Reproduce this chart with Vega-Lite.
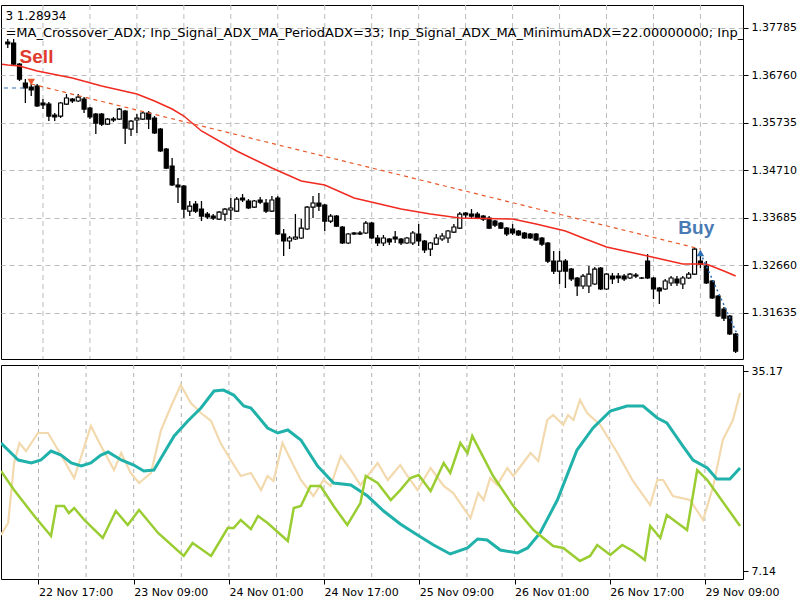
{
  "$schema": "https://vega.github.io/schema/vega-lite/v6.json",
  "padding": {"left": 0, "top": 4, "right": 0, "bottom": 0},
  "background": "#ffffff",
  "spacing": 4,
  "config": {
    "view": {"stroke": "#000000", "strokeWidth": 1},
    "axis": {"labelFont": "DejaVu Sans", "labelFontSize": 11, "labelColor": "#000000", "tickColor": "#000000", "domain": false}
  },
  "datasets": {
    "grid": [{"i":16},{"i":24},{"i":32},{"i":40},{"i":48},{"i":56},{"i":64},{"i":72},{"i":80},{"i":88},{"i":96},{"i":104},{"i":112},{"i":120},{"i":128}],
    "candles": [
      {"i":10,"o":1.37472,"h":1.37537,"l":1.37343,"c":1.37429},
      {"i":11,"o":1.37451,"h":1.37537,"l":1.36976,"c":1.36997},
      {"i":12,"o":1.36997,"h":1.37019,"l":1.36631,"c":1.36673},
      {"i":13,"o":1.36588,"h":1.36673,"l":1.36156,"c":1.36480},
      {"i":14,"o":1.36502,"h":1.36566,"l":1.36307,"c":1.36437},
      {"i":15,"o":1.36523,"h":1.36566,"l":1.36070,"c":1.36091},
      {"i":16,"o":1.36156,"h":1.36242,"l":1.36026,"c":1.36113},
      {"i":17,"o":1.36134,"h":1.36177,"l":1.35767,"c":1.35875},
      {"i":18,"o":1.35897,"h":1.35940,"l":1.35767,"c":1.35854},
      {"i":19,"o":1.35875,"h":1.36177,"l":1.35832,"c":1.36156},
      {"i":20,"o":1.36134,"h":1.36350,"l":1.36113,"c":1.36264},
      {"i":21,"o":1.36242,"h":1.36264,"l":1.36156,"c":1.36199},
      {"i":22,"o":1.36199,"h":1.36350,"l":1.36177,"c":1.36285},
      {"i":23,"o":1.36242,"h":1.36285,"l":1.35940,"c":1.36026},
      {"i":24,"o":1.36048,"h":1.36070,"l":1.35810,"c":1.35854},
      {"i":25,"o":1.35918,"h":1.35940,"l":1.35487,"c":1.35724},
      {"i":26,"o":1.35918,"h":1.35940,"l":1.35659,"c":1.35702},
      {"i":27,"o":1.35702,"h":1.35832,"l":1.35681,"c":1.35810},
      {"i":28,"o":1.35810,"h":1.35854,"l":1.35745,"c":1.35789},
      {"i":29,"o":1.35810,"h":1.36048,"l":1.35789,"c":1.36026},
      {"i":30,"o":1.35983,"h":1.36005,"l":1.35271,"c":1.35616},
      {"i":31,"o":1.35594,"h":1.35789,"l":1.35444,"c":1.35767},
      {"i":32,"o":1.35789,"h":1.35918,"l":1.35509,"c":1.35832},
      {"i":33,"o":1.35810,"h":1.35983,"l":1.35789,"c":1.35940},
      {"i":34,"o":1.35940,"h":1.35983,"l":1.35594,"c":1.35810},
      {"i":35,"o":1.35832,"h":1.35875,"l":1.35487,"c":1.35509},
      {"i":36,"o":1.35594,"h":1.35616,"l":1.35098,"c":1.35120},
      {"i":37,"o":1.35163,"h":1.35185,"l":1.34731,"c":1.34753},
      {"i":38,"o":1.34796,"h":1.34969,"l":1.34365,"c":1.34387},
      {"i":39,"o":1.34387,"h":1.34537,"l":1.33998,"c":1.34344},
      {"i":40,"o":1.34365,"h":1.34387,"l":1.33674,"c":1.33868},
      {"i":41,"o":1.33825,"h":1.34041,"l":1.33717,"c":1.33933},
      {"i":42,"o":1.33976,"h":1.34041,"l":1.33782,"c":1.33825},
      {"i":43,"o":1.33868,"h":1.34041,"l":1.33609,"c":1.33717},
      {"i":44,"o":1.33760,"h":1.33803,"l":1.33652,"c":1.33696},
      {"i":45,"o":1.33717,"h":1.33760,"l":1.33630,"c":1.33674},
      {"i":46,"o":1.33652,"h":1.33825,"l":1.33630,"c":1.33803},
      {"i":47,"o":1.33760,"h":1.33890,"l":1.33609,"c":1.33868},
      {"i":48,"o":1.33847,"h":1.34106,"l":1.33630,"c":1.33890},
      {"i":49,"o":1.33825,"h":1.34128,"l":1.33803,"c":1.34084},
      {"i":50,"o":1.34106,"h":1.34192,"l":1.34019,"c":1.34063},
      {"i":51,"o":1.34041,"h":1.34084,"l":1.33868,"c":1.33890},
      {"i":52,"o":1.33911,"h":1.34063,"l":1.33890,"c":1.34041},
      {"i":53,"o":1.34063,"h":1.34128,"l":1.33976,"c":1.34019},
      {"i":54,"o":1.33998,"h":1.34084,"l":1.33782,"c":1.33825},
      {"i":55,"o":1.33825,"h":1.34149,"l":1.33803,"c":1.34063},
      {"i":56,"o":1.34106,"h":1.34149,"l":1.33308,"c":1.33329},
      {"i":57,"o":1.33329,"h":1.33437,"l":1.32854,"c":1.33178},
      {"i":58,"o":1.33178,"h":1.33286,"l":1.33005,"c":1.33243},
      {"i":59,"o":1.33221,"h":1.33760,"l":1.33200,"c":1.33264},
      {"i":60,"o":1.33243,"h":1.33652,"l":1.33221,"c":1.33458},
      {"i":61,"o":1.33437,"h":1.33933,"l":1.33415,"c":1.33911},
      {"i":62,"o":1.33911,"h":1.34149,"l":1.33674,"c":1.33998},
      {"i":63,"o":1.33998,"h":1.34214,"l":1.33825,"c":1.33933},
      {"i":64,"o":1.33955,"h":1.33976,"l":1.33394,"c":1.33609},
      {"i":65,"o":1.33609,"h":1.33760,"l":1.33566,"c":1.33717},
      {"i":66,"o":1.33717,"h":1.33739,"l":1.33480,"c":1.33501},
      {"i":67,"o":1.33480,"h":1.33501,"l":1.33113,"c":1.33135},
      {"i":68,"o":1.33135,"h":1.33351,"l":1.33113,"c":1.33329},
      {"i":69,"o":1.33329,"h":1.33372,"l":1.33308,"c":1.33351},
      {"i":70,"o":1.33351,"h":1.33394,"l":1.33308,"c":1.33329},
      {"i":71,"o":1.33351,"h":1.33609,"l":1.33329,"c":1.33566},
      {"i":72,"o":1.33566,"h":1.33587,"l":1.33221,"c":1.33243},
      {"i":73,"o":1.33243,"h":1.33308,"l":1.33070,"c":1.33135},
      {"i":74,"o":1.33135,"h":1.33308,"l":1.33070,"c":1.33243},
      {"i":75,"o":1.33221,"h":1.33243,"l":1.33092,"c":1.33157},
      {"i":76,"o":1.33264,"h":1.33394,"l":1.33135,"c":1.33221},
      {"i":77,"o":1.33221,"h":1.33243,"l":1.33092,"c":1.33135},
      {"i":78,"o":1.33135,"h":1.33264,"l":1.33113,"c":1.33243},
      {"i":79,"o":1.33135,"h":1.33394,"l":1.33092,"c":1.33351},
      {"i":80,"o":1.33329,"h":1.33544,"l":1.33070,"c":1.33178},
      {"i":81,"o":1.33178,"h":1.33200,"l":1.32919,"c":1.32984},
      {"i":82,"o":1.33005,"h":1.33156,"l":1.32854,"c":1.33135},
      {"i":83,"o":1.33113,"h":1.33329,"l":1.33092,"c":1.33243},
      {"i":84,"o":1.33221,"h":1.33351,"l":1.33178,"c":1.33286},
      {"i":85,"o":1.33243,"h":1.33415,"l":1.33135,"c":1.33394},
      {"i":86,"o":1.33372,"h":1.33544,"l":1.33351,"c":1.33480},
      {"i":87,"o":1.33458,"h":1.33803,"l":1.33437,"c":1.33760},
      {"i":88,"o":1.33782,"h":1.33803,"l":1.33674,"c":1.33739},
      {"i":89,"o":1.33760,"h":1.33868,"l":1.33674,"c":1.33717},
      {"i":90,"o":1.33760,"h":1.33803,"l":1.33652,"c":1.33674},
      {"i":91,"o":1.33717,"h":1.33739,"l":1.33609,"c":1.33652},
      {"i":92,"o":1.33674,"h":1.33717,"l":1.33437,"c":1.33458},
      {"i":93,"o":1.33609,"h":1.33630,"l":1.33480,"c":1.33523},
      {"i":94,"o":1.33566,"h":1.33587,"l":1.33437,"c":1.33458},
      {"i":95,"o":1.33458,"h":1.33480,"l":1.33286,"c":1.33329},
      {"i":96,"o":1.33437,"h":1.33544,"l":1.33308,"c":1.33351},
      {"i":97,"o":1.33394,"h":1.33415,"l":1.33286,"c":1.33308},
      {"i":98,"o":1.33351,"h":1.33372,"l":1.33221,"c":1.33243},
      {"i":99,"o":1.33329,"h":1.33351,"l":1.33221,"c":1.33243},
      {"i":100,"o":1.33329,"h":1.33351,"l":1.33178,"c":1.33200},
      {"i":101,"o":1.33243,"h":1.33264,"l":1.33070,"c":1.33113},
      {"i":102,"o":1.33135,"h":1.33156,"l":1.32703,"c":1.32746},
      {"i":103,"o":1.32746,"h":1.32962,"l":1.32465,"c":1.32530},
      {"i":104,"o":1.32530,"h":1.32962,"l":1.32250,"c":1.32746},
      {"i":105,"o":1.32746,"h":1.32789,"l":1.32164,"c":1.32530},
      {"i":106,"o":1.32573,"h":1.32595,"l":1.32315,"c":1.32358},
      {"i":107,"o":1.32380,"h":1.32401,"l":1.31991,"c":1.32207},
      {"i":108,"o":1.32207,"h":1.32465,"l":1.32142,"c":1.32422},
      {"i":109,"o":1.32207,"h":1.32638,"l":1.32056,"c":1.32465},
      {"i":110,"o":1.32250,"h":1.32617,"l":1.32229,"c":1.32573},
      {"i":111,"o":1.32595,"h":1.32617,"l":1.32121,"c":1.32142},
      {"i":112,"o":1.32142,"h":1.32487,"l":1.32121,"c":1.32465},
      {"i":113,"o":1.32422,"h":1.32487,"l":1.32250,"c":1.32358},
      {"i":114,"o":1.32422,"h":1.32487,"l":1.32272,"c":1.32380},
      {"i":115,"o":1.32422,"h":1.32465,"l":1.32315,"c":1.32358},
      {"i":116,"o":1.32380,"h":1.32487,"l":1.32358,"c":1.32465},
      {"i":117,"o":1.32444,"h":1.32487,"l":1.32380,"c":1.32422},
      {"i":118,"o":1.32380,"h":1.32401,"l":1.32358,"c":1.32378},
      {"i":119,"o":1.32746,"h":1.32897,"l":1.32358,"c":1.32380},
      {"i":120,"o":1.32380,"h":1.32401,"l":1.31926,"c":1.32142},
      {"i":121,"o":1.32164,"h":1.32185,"l":1.31818,"c":1.32099},
      {"i":122,"o":1.32142,"h":1.32358,"l":1.32121,"c":1.32315},
      {"i":123,"o":1.32272,"h":1.32422,"l":1.32207,"c":1.32380},
      {"i":124,"o":1.32358,"h":1.32422,"l":1.32207,"c":1.32272},
      {"i":125,"o":1.32250,"h":1.32422,"l":1.32142,"c":1.32380},
      {"i":126,"o":1.32380,"h":1.32509,"l":1.32358,"c":1.32465},
      {"i":127,"o":1.32465,"h":1.33027,"l":1.32444,"c":1.33005},
      {"i":128,"o":1.32746,"h":1.32962,"l":1.32595,"c":1.32681},
      {"i":129,"o":1.32638,"h":1.32746,"l":1.32250,"c":1.32272},
      {"i":130,"o":1.32315,"h":1.32337,"l":1.31926,"c":1.31948},
      {"i":131,"o":1.31991,"h":1.32013,"l":1.31538,"c":1.31560},
      {"i":132,"o":1.31710,"h":1.31753,"l":1.31451,"c":1.31516},
      {"i":133,"o":1.31560,"h":1.31581,"l":1.31150,"c":1.31171},
      {"i":134,"o":1.31171,"h":1.31193,"l":1.30761,"c":1.30804}
    ],
    "ma": [
      {"i":9,"p":1.36990},{"i":10,"p":1.36976},{"i":12,"p":1.36954},{"i":15,"p":1.36846},{"i":21,"p":1.36695},{"i":26,"p":1.36523},
      {"i":32,"p":1.36350},{"i":35,"p":1.36199},{"i":38,"p":1.36026},{"i":40,"p":1.35875},{"i":43,"p":1.35552},
      {"i":49,"p":1.35120},{"i":55,"p":1.34753},{"i":60,"p":1.34473},{"i":64,"p":1.34387},{"i":69,"p":1.34106},
      {"i":77,"p":1.33868},{"i":82,"p":1.33760},{"i":87,"p":1.33674},{"i":96,"p":1.33652},{"i":100,"p":1.33544},
      {"i":105,"p":1.33394},{"i":108,"p":1.33243},{"i":112,"p":1.33048},{"i":119,"p":1.32854},{"i":125,"p":1.32681},
      {"i":129,"p":1.32681},{"i":132,"p":1.32530},{"i":134,"p":1.32422}
    ],
    "trades": [
      {"t":"sell","i":14,"p":1.36566},{"t":"sell","i":128,"p":1.33005},
      {"t":"prev","i":8,"p":1.36480},{"t":"prev","i":13.2,"p":1.36480},
      {"t":"buy","i":128,"p":1.32919},{"t":"buy","i":134.4,"p":1.31128}
    ],
    "signals": [
      {"s":"Sell","i":14,"p":1.36609},
      {"s":"Buy","i":128,"p":1.32919}
    ],
    "notes": [
      {"s":"Sell","i":14.9,"p":1.37149},
      {"s":"Buy","i":127.3,"p":1.33458}
    ],
    "header": [
      {"n":1,"t":"3 1.28934","i":9.6,"p":1.38033},
      {"n":2,"t":"=MA_Crossover_ADX; Inp_Signal_ADX_MA_PeriodADX=33; Inp_Signal_ADX_MA_MinimumADX=22.00000000; Inp_S","i":9.6,"p":1.37666}
    ],
    "adx": [
      {"s":"ADX","i":9.7,"v":25.08},{"s":"ADX","i":11.4,"v":23.68},{"s":"ADX","i":12.6,"v":22.70},{"s":"ADX","i":14.8,"v":22.28},
      {"s":"ADX","i":16.4,"v":22.70},{"s":"ADX","i":18.1,"v":23.96},{"s":"ADX","i":19.8,"v":23.40},{"s":"ADX","i":21.5,"v":22.28},
      {"s":"ADX","i":23.2,"v":21.86},{"s":"ADX","i":24.8,"v":22.28},{"s":"ADX","i":26.5,"v":23.40},{"s":"ADX","i":27.7,"v":23.82},
      {"s":"ADX","i":29.9,"v":22.70},{"s":"ADX","i":32,"v":22.00},{"s":"ADX","i":33.7,"v":21.16},{"s":"ADX","i":35.4,"v":21.30},
      {"s":"ADX","i":37.1,"v":23.68},{"s":"ADX","i":38.8,"v":26.07},{"s":"ADX","i":41.1,"v":28.17},{"s":"ADX","i":43.3,"v":29.99},
      {"s":"ADX","i":45.5,"v":32.37},{"s":"ADX","i":47.1,"v":32.51},{"s":"ADX","i":48.8,"v":31.81},{"s":"ADX","i":50.5,"v":30.27},
      {"s":"ADX","i":51.7,"v":29.99},{"s":"ADX","i":54.5,"v":27.19},{"s":"ADX","i":56.2,"v":26.49},{"s":"ADX","i":57.9,"v":26.91},
      {"s":"ADX","i":60.1,"v":25.50},{"s":"ADX","i":62.9,"v":21.86},{"s":"ADX","i":65.6,"v":19.48},{"s":"ADX","i":68.5,"v":19.20},
      {"s":"ADX","i":71.3,"v":17.65},{"s":"ADX","i":74,"v":15.55},{"s":"ADX","i":76.8,"v":13.73},{"s":"ADX","i":79.7,"v":12.19},
      {"s":"ADX","i":82.4,"v":10.79},{"s":"ADX","i":85.2,"v":9.53},{"s":"ADX","i":88.1,"v":10.37},{"s":"ADX","i":89.8,"v":11.63},
      {"s":"ADX","i":91.4,"v":11.49},{"s":"ADX","i":93.6,"v":10.09},{"s":"ADX","i":96.5,"v":9.67},{"s":"ADX","i":98.2,"v":10.37},
      {"s":"ADX","i":100.3,"v":12.47},{"s":"ADX","i":103.2,"v":17.09},{"s":"ADX","i":106.5,"v":24.10},{"s":"ADX","i":109.2,"v":27.19},
      {"s":"ADX","i":112.1,"v":29.57},{"s":"ADX","i":114.9,"v":30.27},{"s":"ADX","i":117.6,"v":30.27},{"s":"ADX","i":120,"v":28.59},
      {"s":"ADX","i":121.6,"v":27.89},{"s":"ADX","i":124.3,"v":24.66},{"s":"ADX","i":126,"v":22.70},{"s":"ADX","i":128.4,"v":21.58},
      {"s":"ADX","i":130,"v":20.04},{"s":"ADX","i":132.2,"v":20.04},{"s":"ADX","i":133.9,"v":21.58},
      {"s":"-DI","i":9.7,"v":12.19},{"s":"-DI","i":10.9,"v":13.87},{"s":"-DI","i":11.9,"v":22.28},{"s":"-DI","i":12.8,"v":25.08},
      {"s":"-DI","i":13.9,"v":23.96},{"s":"-DI","i":15.9,"v":26.49},{"s":"-DI","i":17.6,"v":26.49},{"s":"-DI","i":19.3,"v":24.10},
      {"s":"-DI","i":22,"v":20.18},{"s":"-DI","i":23.2,"v":23.26},{"s":"-DI","i":24.8,"v":27.47},{"s":"-DI","i":26.5,"v":24.66},
      {"s":"-DI","i":28.7,"v":21.30},{"s":"-DI","i":29.9,"v":23.68},{"s":"-DI","i":31.5,"v":20.88},{"s":"-DI","i":32.9,"v":19.48},
      {"s":"-DI","i":34.9,"v":20.88},{"s":"-DI","i":36.6,"v":26.91},{"s":"-DI","i":38.3,"v":30.27},{"s":"-DI","i":39.9,"v":33.21},
      {"s":"-DI","i":41.6,"v":30.69},{"s":"-DI","i":43.3,"v":29.29},{"s":"-DI","i":45,"v":28.17},{"s":"-DI","i":46.6,"v":25.08},
      {"s":"-DI","i":48.3,"v":22.70},{"s":"-DI","i":50,"v":20.46},{"s":"-DI","i":51.7,"v":20.88},{"s":"-DI","i":53.4,"v":18.49},
      {"s":"-DI","i":54.5,"v":20.46},{"s":"-DI","i":55.5,"v":19.76},{"s":"-DI","i":57,"v":25.08},{"s":"-DI","i":58.4,"v":22.70},
      {"s":"-DI","i":60.1,"v":19.90},{"s":"-DI","i":62.2,"v":17.65},{"s":"-DI","i":63.9,"v":19.90},{"s":"-DI","i":65.1,"v":19.06},
      {"s":"-DI","i":66.8,"v":23.26},{"s":"-DI","i":68.5,"v":21.30},{"s":"-DI","i":70.1,"v":19.20},{"s":"-DI","i":73,"v":22.28},
      {"s":"-DI","i":74.7,"v":19.90},{"s":"-DI","i":76.8,"v":22.00},{"s":"-DI","i":78,"v":20.46},{"s":"-DI","i":79.7,"v":18.49},
      {"s":"-DI","i":81.9,"v":21.58},{"s":"-DI","i":84.1,"v":19.06},{"s":"-DI","i":85.7,"v":18.07},{"s":"-DI","i":88.6,"v":14.57},
      {"s":"-DI","i":89.9,"v":18.07},{"s":"-DI","i":90.8,"v":17.09},{"s":"-DI","i":91.9,"v":20.18},{"s":"-DI","i":93.1,"v":19.20},
      {"s":"-DI","i":94.8,"v":21.58},{"s":"-DI","i":95.8,"v":20.46},{"s":"-DI","i":98.7,"v":23.68},{"s":"-DI","i":100,"v":22.56},
      {"s":"-DI","i":101.5,"v":28.31},{"s":"-DI","i":102.5,"v":29.01},{"s":"-DI","i":104.2,"v":27.61},{"s":"-DI","i":105,"v":29.01},
      {"s":"-DI","i":105.9,"v":28.31},{"s":"-DI","i":107,"v":31.11},{"s":"-DI","i":108.2,"v":29.29},{"s":"-DI","i":110.4,"v":27.61},
      {"s":"-DI","i":113.3,"v":23.68},{"s":"-DI","i":115.9,"v":19.76},{"s":"-DI","i":118.8,"v":16.39},{"s":"-DI","i":120,"v":19.90},
      {"s":"-DI","i":121,"v":19.90},{"s":"-DI","i":122.6,"v":17.65},{"s":"-DI","i":125.5,"v":17.09},{"s":"-DI","i":127.7,"v":14.29},
      {"s":"-DI","i":129.4,"v":19.06},{"s":"-DI","i":131,"v":25.50},{"s":"-DI","i":132.7,"v":28.31},{"s":"-DI","i":133.9,"v":32.09},
      {"s":"+DI","i":9.7,"v":21.16},{"s":"+DI","i":11.9,"v":18.49},{"s":"+DI","i":15.3,"v":14.85},{"s":"+DI","i":18.1,"v":12.05},
      {"s":"+DI","i":19,"v":16.25},{"s":"+DI","i":20.3,"v":16.25},{"s":"+DI","i":21.1,"v":15.27},{"s":"+DI","i":22,"v":15.97},
      {"s":"+DI","i":23.7,"v":14.29},{"s":"+DI","i":26.8,"v":11.77},{"s":"+DI","i":29,"v":15.55},{"s":"+DI","i":31,"v":13.59},
      {"s":"+DI","i":32.9,"v":15.69},{"s":"+DI","i":36.1,"v":12.47},{"s":"+DI","i":40.4,"v":9.25},{"s":"+DI","i":41.9,"v":11.07},
      {"s":"+DI","i":45,"v":9.25},{"s":"+DI","i":47.8,"v":13.16},{"s":"+DI","i":48.8,"v":13.16},{"s":"+DI","i":50,"v":14.29},
      {"s":"+DI","i":51.7,"v":13.02},{"s":"+DI","i":52.9,"v":14.85},{"s":"+DI","i":54.5,"v":13.87},{"s":"+DI","i":57.9,"v":11.35},
      {"s":"+DI","i":58.9,"v":15.97},{"s":"+DI","i":60.1,"v":16.25},{"s":"+DI","i":61.7,"v":19.06},{"s":"+DI","i":63.4,"v":19.06},
      {"s":"+DI","i":65.6,"v":16.25},{"s":"+DI","i":67.9,"v":13.59},{"s":"+DI","i":70.1,"v":16.67},{"s":"+DI","i":71,"v":20.46},
      {"s":"+DI","i":73,"v":19.48},{"s":"+DI","i":75.2,"v":17.09},{"s":"+DI","i":76.8,"v":18.49},{"s":"+DI","i":78.5,"v":20.18},
      {"s":"+DI","i":79.9,"v":20.60},{"s":"+DI","i":81.9,"v":18.35},{"s":"+DI","i":84.1,"v":22.28},{"s":"+DI","i":85.2,"v":20.88},
      {"s":"+DI","i":86.9,"v":25.08},{"s":"+DI","i":88.1,"v":23.68},{"s":"+DI","i":88.9,"v":26.07},{"s":"+DI","i":92.4,"v":20.46},
      {"s":"+DI","i":95.8,"v":16.25},{"s":"+DI","i":99.2,"v":12.88},{"s":"+DI","i":102.5,"v":10.65},{"s":"+DI","i":104.2,"v":10.37},
      {"s":"+DI","i":107,"v":8.55},{"s":"+DI","i":108.7,"v":9.25},{"s":"+DI","i":109.9,"v":10.79},{"s":"+DI","i":112.1,"v":9.39},
      {"s":"+DI","i":114.1,"v":10.79},{"s":"+DI","i":115.9,"v":9.95},{"s":"+DI","i":117.9,"v":8.69},{"s":"+DI","i":118.8,"v":13.45},
      {"s":"+DI","i":120.5,"v":11.77},{"s":"+DI","i":121.6,"v":14.99},{"s":"+DI","i":125,"v":12.88},{"s":"+DI","i":126.7,"v":21.30},
      {"s":"+DI","i":128.4,"v":19.90},{"s":"+DI","i":133.9,"v":13.45}
    ]
  },
  "vconcat": [
    {
      "width": 742,
      "height": 354,
      "encoding": {
        "x": {"field": "i", "type": "quantitative", "scale": {"domain": [9.7, 134.4], "nice": false, "zero": false}, "axis": null}
      },
      "layer": [
        {
          "data": {"name": "grid"},
          "mark": {"type": "rule", "stroke": "#bcbcbc", "strokeDash": [5, 4], "strokeWidth": 1},
          "encoding": {}
        },
        {
          "data": {"name": "candles"},
          "mark": {"type": "rule", "color": "#000000", "strokeWidth": 1.3, "clip": true},
          "encoding": {
            "y": {"field": "l", "type": "quantitative", "title": null,
              "scale": {"domain": [1.30632, 1.38271], "nice": false, "zero": false},
              "axis": {"orient": "right", "values": [1.31635, 1.3266, 1.33685, 1.3471, 1.35735, 1.3676, 1.37785], "format": ".5f", "grid": true, "gridColor": "#bcbcbc", "gridDash": [5, 4], "tickSize": 5, "labelPadding": 3, "title": null}},
            "y2": {"field": "h"}
          }
        },
        {
          "data": {"name": "candles"},
          "mark": {"type": "bar", "size": 4, "stroke": "#000000", "strokeWidth": 1.2, "clip": true},
          "encoding": {
            "y": {"field": "o", "type": "quantitative", "title": null},
            "y2": {"field": "c"},
            "fill": {"condition": {"test": "datum.c > datum.o", "value": "#ffffff"}, "value": "#000000"}
          }
        },
        {
          "data": {"name": "ma"},
          "mark": {"type": "line", "color": "#f02a20", "strokeWidth": 1.5, "clip": true},
          "encoding": {"y": {"field": "p", "type": "quantitative", "title": null}}
        },
        {
          "data": {"name": "trades"},
          "transform": [{"filter": "datum.t == 'sell'"}],
          "mark": {"type": "line", "color": "#e8582a", "strokeWidth": 1.2, "strokeDash": [4, 4], "clip": true},
          "encoding": {"y": {"field": "p", "type": "quantitative", "title": null}}
        },
        {
          "data": {"name": "trades"},
          "transform": [{"filter": "datum.t == 'prev'"}],
          "mark": {"type": "line", "color": "#2f6fb5", "strokeWidth": 1.2, "strokeDash": [4, 4], "clip": true},
          "encoding": {"y": {"field": "p", "type": "quantitative", "title": null}}
        },
        {
          "data": {"name": "trades"},
          "transform": [{"filter": "datum.t == 'buy'"}],
          "mark": {"type": "line", "color": "#2f6fb5", "strokeWidth": 1.5, "strokeDash": [2, 3], "clip": true},
          "encoding": {"y": {"field": "p", "type": "quantitative", "title": null}}
        },
        {
          "data": {"name": "signals"},
          "transform": [{"filter": "datum.s == 'Sell'"}],
          "mark": {"type": "point", "shape": "triangle-down", "filled": true, "size": 55, "color": "#e8582a", "opacity": 1},
          "encoding": {"y": {"field": "p", "type": "quantitative", "title": null}}
        },
        {
          "data": {"name": "signals"},
          "transform": [{"filter": "datum.s == 'Buy'"}],
          "mark": {"type": "point", "shape": "triangle-up", "filled": true, "size": 55, "color": "#2f6fb5", "opacity": 1},
          "encoding": {"y": {"field": "p", "type": "quantitative", "title": null}}
        },
        {
          "data": {"name": "notes"},
          "mark": {"type": "text", "font": "Liberation Sans", "fontSize": 19, "fontWeight": "bold", "align": "center", "baseline": "middle"},
          "encoding": {
            "y": {"field": "p", "type": "quantitative", "title": null},
            "text": {"field": "s"},
            "color": {"field": "s", "type": "nominal", "scale": {"domain": ["Sell", "Buy"], "range": ["#e03a2e", "#4a7ab4"]}, "legend": null}
          }
        },
        {
          "data": {"name": "header"},
          "transform": [{"filter": "datum.n == 1"}],
          "mark": {"type": "text", "font": "DejaVu Sans", "fontSize": 12, "align": "left", "baseline": "middle", "color": "#000000", "clip": true},
          "encoding": {
            "y": {"field": "p", "type": "quantitative", "title": null},
            "text": {"field": "t"}
          }
        },
        {
          "data": {"name": "header"},
          "transform": [{"filter": "datum.n == 2"}],
          "mark": {"type": "text", "font": "DejaVu Sans", "fontSize": 13, "align": "left", "baseline": "middle", "color": "#000000", "clip": true},
          "encoding": {
            "y": {"field": "p", "type": "quantitative", "title": null},
            "text": {"field": "t"}
          }
        }
      ]
    },
    {
      "width": 742,
      "height": 214,
      "encoding": {
        "x": {"field": "i", "type": "quantitative", "scale": {"domain": [9.7, 134.4], "nice": false, "zero": false},
          "axis": {"values": [16, 32, 48, 64, 80, 96, 112, 128], "labelExpr": "['22 Nov 17:00','23 Nov 09:00','24 Nov 01:00','24 Nov 17:00','25 Nov 09:00','26 Nov 01:00','26 Nov 17:00','29 Nov 09:00'][round(datum.value/16)-1]", "labelAlign": "left", "labelPadding": 2, "tickSize": 5, "grid": false, "title": null, "labelOverlap": false, "labelFlush": false}}
      },
      "layer": [
        {
          "data": {"name": "grid"},
          "mark": {"type": "rule", "stroke": "#b0b0b0", "strokeDash": [4, 4], "strokeWidth": 1},
          "encoding": {}
        },
        {
          "data": {"name": "adx"},
          "transform": [{"filter": "datum.s == '-DI'"}],
          "mark": {"type": "line", "color": "#f3d9ae", "strokeWidth": 2.2, "clip": true},
          "encoding": {
            "y": {"field": "v", "type": "quantitative", "title": null,
              "scale": {"domain": [6.02, 36.02], "nice": false, "zero": false},
              "axis": {"orient": "right", "values": [7.14, 35.17], "format": ".2f", "grid": false, "tickSize": 5, "labelPadding": 3, "title": null}}
          }
        },
        {
          "data": {"name": "adx"},
          "transform": [{"filter": "datum.s == 'ADX'"}],
          "mark": {"type": "line", "color": "#20b2aa", "strokeWidth": 3, "clip": true},
          "encoding": {"y": {"field": "v", "type": "quantitative", "title": null}}
        },
        {
          "data": {"name": "adx"},
          "transform": [{"filter": "datum.s == '+DI'"}],
          "mark": {"type": "line", "color": "#9acd32", "strokeWidth": 2.5, "clip": true},
          "encoding": {"y": {"field": "v", "type": "quantitative", "title": null}}
        }
      ]
    }
  ]
}
